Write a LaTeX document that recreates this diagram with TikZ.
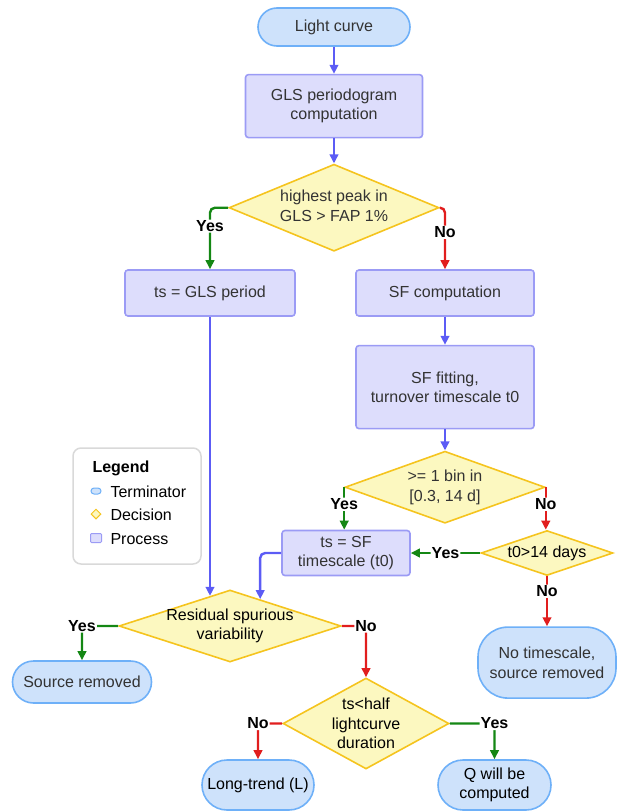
\documentclass[tikz,border=0pt]{standalone}
\usepackage{fontspec}
\setmainfont{Liberation Sans}
\usetikzlibrary{arrows.meta,positioning,shapes.geometric,calc}
\definecolor{termfill}{RGB}{206,226,251}
\definecolor{termline}{RGB}{110,176,248}
\definecolor{procfill}{RGB}{221,221,252}
\definecolor{procline}{RGB}{155,155,245}
\definecolor{decfill}{RGB}{252,248,192}
\definecolor{decline}{RGB}{245,196,30}
\definecolor{flowcol}{RGB}{92,92,245}
\definecolor{yescol}{RGB}{20,135,20}
\definecolor{nocol}{RGB}{225,30,30}
\definecolor{txtgrey}{RGB}{51,51,51}
\tikzset{
    %Define standard arrow tip
    >={Triangle[length=9pt,width=8.5pt]},
    %Define style for terminators
    term/.style={
      rectangle,
      draw=termline, fill=termfill,
      line width=1.6pt,
      inner sep=0pt,
      text=txtgrey,
      align=center},
    %Define style for process boxes
    proc/.style={
      rectangle,
      rounded corners=3pt,
      draw=procline, fill=procfill,
      line width=1.6pt,
      inner sep=0pt,
      text=txtgrey,
      align=center},
    %Define style for decisions
    decide/.style={
      diamond,
      draw=decline, fill=decfill,
      line width=1.6pt,
      inner sep=0pt},
    dectext/.style={
      align=center,
      text=txtgrey},
    % Define arrow styles
    flow/.style={
      ->,
      draw=flowcol,
      line width=2.4pt,
      rounded corners=5pt},
    yesarr/.style={flow, draw=yescol},
    noarr/.style={flow, draw=nocol},
    lbl/.style={
      fill=white,
      inner sep=1pt,
      text=black,
      font=\fontsize{16}{19.5}\selectfont\bfseries},
    legendbox/.style={
      rectangle,
      rounded corners=8pt,
      draw=black!15, fill=white,
      line width=1.5pt},
    legtext/.style={anchor=west, text=black},
    every node/.style={font=\fontsize{16}{19.5}\selectfont}
}
\begin{document}
\begin{tikzpicture}[x=1pt, y=-1pt]
    \useasboundingbox (0,0) rectangle (628,811);

    \node[term, minimum width=152pt, minimum height=38pt, rounded corners=19pt] (light) at (334,27) {Light curve};
    \node[proc, minimum width=177pt, minimum height=63pt, below=27pt of light] (gls) {GLS periodogram\\computation};
    \node[decide, minimum width=210pt, minimum height=87pt, below=25pt of gls,
      label={[dectext, yshift=2pt]center:{highest peak in\\GLS > FAP 1\%}}] (peak) {};

    \node[proc, minimum width=170pt, minimum height=46pt] (glsper) at (210,293) {ts = GLS period};
    \node[proc, minimum width=178pt, minimum height=46pt] (sfcomp) at (445,293) {SF computation};
    \node[proc, minimum width=178pt, minimum height=83pt, below=28pt of sfcomp] (sffit) {SF fitting,\\turnover timescale t0};
    \node[decide, minimum width=200pt, minimum height=72pt, below=21pt of sffit,
      label={[dectext]center:{>= 1 bin in\\{[0.3, 14 d]}}}] (bins) {};

    \node[proc, minimum width=128pt, minimum height=45pt] (tssf) at (346,553) {ts = SF\\timescale (t0)};
    \node[decide, minimum width=132pt, minimum height=45pt,
      label={[dectext, text=black]center:{t0>14 days}}] (tbig) at (547,553) {};
    \node[term, minimum width=138pt, minimum height=71pt, rounded corners=30pt, below=50pt of tbig] (notime) {No timescale,\\source removed};

    \node[decide, minimum width=222pt, minimum height=72pt,
      label={[dectext, text=black]center:{Residual spurious\\variability}}] (resid) at (230,626) {};
    \node[term, minimum width=139pt, minimum height=42pt, rounded corners=21pt] (srcrem) at (82,682) {Source removed};
    \node[decide, minimum width=166pt, minimum height=91pt,
      label={[dectext, text=black]center:{ts<half\\lightcurve\\duration}}] (half) at (366,723.5) {};
    \node[term, minimum width=112pt, minimum height=50pt, rounded corners=25pt, text=black] (longtr) at (258,785) {Long-trend (L)};
    \node[term, minimum width=113pt, minimum height=50pt, rounded corners=25pt, text=black] (qcomp) at (494.5,785) {Q will be\\computed};

    % legend
    \node[legendbox, minimum width=128pt, minimum height=116pt] (legend) at (137,506) {};
    \node[legtext, font=\fontsize{16}{19.5}\selectfont\bfseries] (legtitle) at (89,468) {Legend};
    \node[term, minimum width=10pt, minimum height=6pt, rounded corners=3pt, line width=1pt] (legterm) at (96,491) {};
    \node[legtext] (legtermtxt) at (107,492) {Terminator};
    \node[decide, minimum width=10pt, minimum height=10pt, line width=1pt] (legdec) at (96,514) {};
    \node[legtext] (legdectxt) at (107,515) {Decision};
    \node[proc, minimum width=11pt, minimum height=9pt, rounded corners=1pt, line width=1pt] (legproc) at (96,538) {};
    \node[legtext] (legproctxt) at (107,539) {Process};

    % connectors
    \draw[flow] (light) -- (gls);
    \draw[flow] (gls) -- (peak);
    \draw[yesarr] (peak.west) -| node[lbl, pos=0.65] {Yes} (glsper.north);
    \draw[noarr] (peak.east) -| node[lbl, pos=0.7] {No} (sfcomp.north);
    \draw[flow] (sfcomp) -- (sffit);
    \draw[flow] (sffit) -- (bins);
    \draw[yesarr] (bins.west) -- node[lbl, pos=0.4] {Yes} (bins.west |- tssf.north);
    \draw[noarr] (bins.east) -- node[lbl, pos=0.4] {No} (bins.east |- tbig.north);
    \draw[yesarr] (tbig.west) -- node[lbl] {Yes} (tssf.east);
    \draw[noarr] (tbig.south) -- node[lbl, pos=0.3] {No} (notime.north);

    \coordinate (residin1) at ($(resid.north)!0.18!(resid.west)$);
    \coordinate (residin2) at ($(resid.north)!0.27!(resid.east)$);
    \draw[flow] (glsper.south) -- (glsper.south |- residin1);
    \draw[flow] (tssf.west) -| (residin2);

    \draw[yesarr] (resid.west) -| node[lbl] {Yes} (srcrem.north);
    \draw[noarr] (resid.east) -| node[lbl] {No} (half.north);
    \draw[noarr] (half.west) -| node[lbl] {No} (longtr.north);
    \draw[yesarr] (half.east) -| node[lbl] {Yes} (qcomp.north);
\end{tikzpicture}
\end{document}
